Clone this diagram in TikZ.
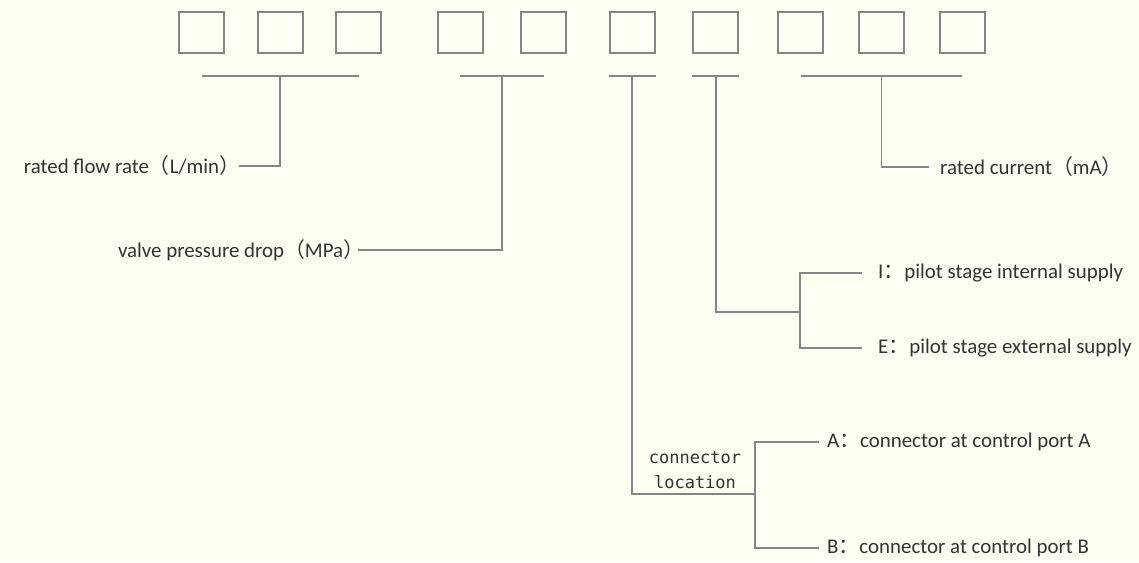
\documentclass[tikz,border=0pt]{standalone}
\usepackage{fontspec}
\setmainfont{Carlito}
\setmonofont{DejaVu Sans Mono}
\newfontfamily\cjk{Noto Sans CJK SC}
\usetikzlibrary{positioning}
\definecolor{paper}{HTML}{FEFEF2}
\definecolor{rule}{HTML}{858585}
\definecolor{ink}{HTML}{333333}
\newcommand{\lpar}{{\cjk （}}
\newcommand{\rpar}{{\cjk ）}\kern-.35em}
\newcommand{\fcolon}{{\cjk ：}}

\begin{document}
\begin{tikzpicture}[x=1pt, y=-1pt,
digit/.style = {rectangle, draw=rule, line width=2pt, minimum width=45pt, minimum height=41pt},
lead/.style = {draw=rule, line width=1.9pt},
lbl/.style = {inner sep=0pt, text=ink, font=\fontsize{20.9}{25}\selectfont}]
\fill[paper] (0,0) rectangle (1139,562);

% code boxes
\node[digit] (b1) at (201.5,32) {};
\node[digit] (b2) at (280.3,32) {};
\node[digit] (b3) at (358.5,32) {};
\node[digit] (b4) at (460.3,32) {};
\node[digit] (b5) at (543.8,32) {};
\node[digit] (b6) at (632,32) {};
\node[digit] (b7) at (715.7,32) {};
\node[digit] (b8) at (800.5,32) {};
\node[digit] (b9) at (881.5,32) {};
\node[digit] (b10) at (962,32) {};

% labels
\node[lbl, anchor=east] (flow) at (233,166) {rated flow rate\lpar L/min\rpar};
\node[lbl, anchor=east] (drop) at (357,250) {valve pressure drop\lpar MPa\rpar};
\node[lbl, anchor=west] (current) at (940,167) {rated current\lpar mA\rpar};
\node[lbl, anchor=west] (iint) at (878,273) {I\fcolon pilot stage internal supply};
\node[lbl, anchor=west] (iext) at (878,348) {E\fcolon pilot stage external supply};
\node[lbl, anchor=west] (portA) at (827,442) {A\fcolon connector at control port A};
\node[lbl, anchor=west] (portB) at (827,548) {B\fcolon connector at control port B};
\node[text=ink, align=center, inner sep=0pt, font=\ttfamily\fontsize{17}{25}\selectfont] (conn) at (695,470) {connector\\location};

\coordinate (bar) at (0,76);
\coordinate (s2) at (502,76);
\coordinate (j3) at (755,494);
\coordinate (j4) at (800,312);

% brackets under the boxes
\draw[lead] (b1 |- bar) -- (b3 |- bar);
\draw[lead] (b4 |- bar) -- (b5 |- bar);
\draw[lead] (b6.west |- bar) -- (b6.east |- bar);
\draw[lead] (b7.west |- bar) -- (b7.east |- bar);
\draw[lead] (b8 |- bar) -- (b10 |- bar);

% leads to the labels
\draw[lead] (b2 |- bar) |- ([xshift=6pt]flow.east);
\draw[lead] (s2) |- ([xshift=1pt]drop.east);
\draw[lead] (b9 |- bar) |- ([xshift=-11pt]current.west);
\draw[lead] (b7 |- bar) |- (j4);
\draw[lead] ([xshift=-16pt]iint.west) -| (j4) |- ([xshift=-16pt]iext.west);
\draw[lead] (b6 |- bar) |- (j3);
\draw[lead] ([xshift=-8pt]portA.west) -| (j3) |- ([xshift=-8pt]portB.west);
\end{tikzpicture}
\end{document}
